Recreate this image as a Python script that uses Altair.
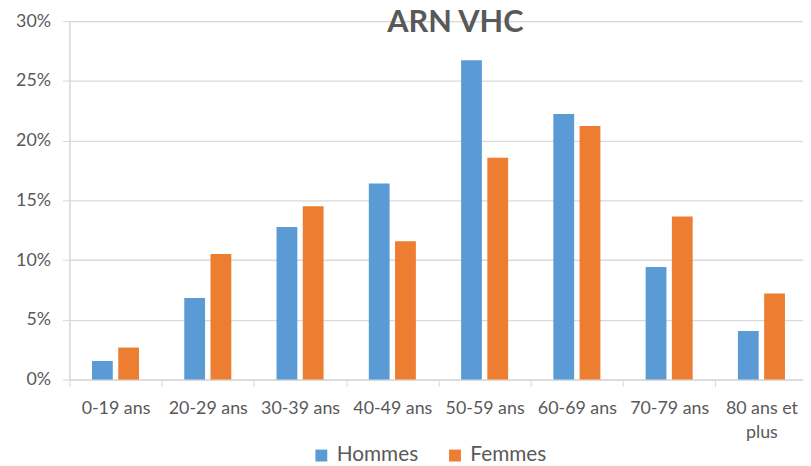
import altair as alt
import pandas as pd

categories = ["0-19 ans", "20-29 ans", "30-39 ans", "40-49 ans",
              "50-59 ans", "60-69 ans", "70-79 ans", "80 ans et plus"]
series = ["Hommes", "Femmes"]
hommes = [1.55, 6.82, 12.77, 16.42, 26.72, 22.22, 9.42, 4.06]
femmes = [2.68, 10.52, 14.50, 11.58, 18.57, 21.22, 13.65, 7.21]
y_ticks = [0, 5, 10, 15, 20, 25, 30]

rows = []
for c, h, f in zip(categories, hommes, femmes):
    rows.append({"cat": c, "serie": "Hommes", "val": h})
    rows.append({"cat": c, "serie": "Femmes", "val": f})
df = pd.DataFrame(rows)

FONT = "Lato"
GREY = "#595959"
LINE = "#d9d9d9"

label_expr = "datum.label == '80 ans et plus' ? ['80 ans et', 'plus'] : datum.label"

chart = alt.Chart(df).mark_bar().encode(
    x=alt.X("cat:N", sort=categories,
            scale=alt.Scale(paddingInner=0, paddingOuter=0),
            axis=alt.Axis(title=None, labelAngle=0, labelFont=FONT, labelFontSize=18,
                          labelColor=GREY, labelExpr=label_expr, labelLineHeight=25,
                          labelLimit=200, tickBand="extent", tickSize=7, tickColor=LINE,
                          domainColor=LINE, domainWidth=1.3, labelPadding=13,
                          labelBaseline="top")),
    xOffset=alt.XOffset("serie:N", sort=series,
                        scale=alt.Scale(paddingInner=0.2075, paddingOuter=0.862)),
    y=alt.Y("val:Q", scale=alt.Scale(domain=[0, 30], nice=False),
            axis=alt.Axis(title=None, values=y_ticks, labelExpr="datum.value + '%'",
                          labelFont=FONT, labelFontSize=18, labelColor=GREY,
                          gridColor=LINE, gridWidth=1.3, tickColor=LINE, tickSize=7,
                          domainColor=LINE, domainWidth=1.3, labelPadding=12)),
    color=alt.Color("serie:N", sort=series,
                    scale=alt.Scale(domain=series, range=["#5B9BD5", "#ED7D31"]),
                    legend=alt.Legend(title=None, orient="none", direction="horizontal",
                                      legendX=244, legendY=428, symbolType="square",
                                      symbolSize=144, symbolStrokeWidth=0,
                                      labelFont=FONT, labelFontSize=21, labelColor=GREY,
                                      labelOffset=5, columnPadding=26)),
).properties(
    width=745.6, height=362,
    autosize="none",
    padding={"left": 62, "top": 11, "right": -4.6, "bottom": 85},
    title=alt.Title("ARN VHC", font=FONT, fontSize=31, fontWeight="bold", color=GREY,
                    anchor="middle", dx=17, offset=-27, baseline="top"),
).configure_view(stroke=None).configure(background="white")

chart.save("out.html", embed_options={"renderer": "svg", "actions": False})
